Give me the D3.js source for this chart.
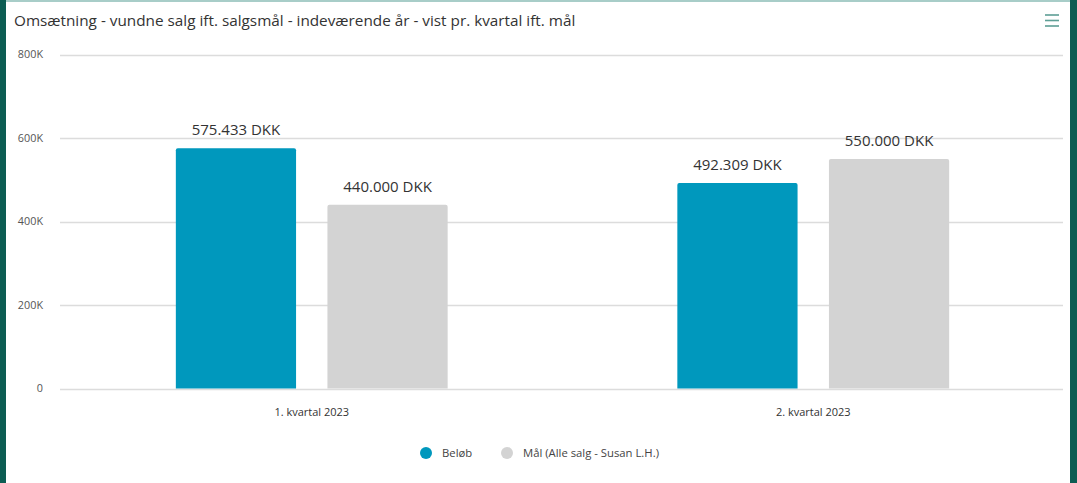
<!DOCTYPE html>
<html>
<head>
<meta charset="utf-8">
<script src="https://cdn.jsdelivr.net/npm/d3@7"></script>
<style>
  html, body { margin: 0; padding: 0; background: #fff; }
  svg { display: block; font-family: "Open Sans", "Noto Sans", sans-serif; }
</style>
</head>
<body>
<svg id="chart" width="1077" height="483"></svg>
<script>
const title = "Omsætning - vundne salg ift. salgsmål - indeværende år - vist pr. kvartal ift. mål";
const categories = ["1. kvartal 2023", "2. kvartal 2023"];
const seriesNames = ["Beløb", "Mål (Alle salg - Susan L.H.)"];
const belob = [575433, 492309];
const maal = [440000, 550000];
const yTicks = [0, 200000, 400000, 600000, 800000];
const yTickLabels = ["0", "200K", "400K", "600K", "800K"];
const colors = ["#0098bd", "#d3d3d3"];

(function () {
const W = 1077, H = 483;
const svg = d3.select("#chart");

// frame
svg.append("rect").attr("x", 0).attr("y", 0).attr("width", W).attr("height", H).attr("fill", "#fff");
svg.append("rect").attr("x", 0).attr("y", 0).attr("width", W).attr("height", 2).attr("fill", "#a8cdc8");
svg.append("rect").attr("x", 0).attr("y", 0).attr("width", 6).attr("height", H).attr("fill", "#0c5d53");
svg.append("rect").attr("x", 1070).attr("y", 0).attr("width", 7).attr("height", H).attr("fill", "#0c5d53");

// title
svg.append("text").attr("x", 14).attr("y", 26)
  .attr("font-size", 15.3).attr("fill", "#333").text(title);

// hamburger
[15, 20.5, 26].forEach(yy => {
  svg.append("rect").attr("x", 1045).attr("y", yy - 0.8).attr("width", 14).attr("height", 1.6)
    .attr("fill", "#5e9f96");
});

const pLeft = 61, pRight = 1064, pTop = 54.5, pBottom = 388.5;
const y = d3.scaleLinear().domain([0, 800000]).range([pBottom, pTop]);
const x0 = d3.scaleBand().domain(categories).range([pLeft, pRight]).padding(0);
const bw = x0.bandwidth();
const x1 = d3.scaleBand().domain(seriesNames).range([bw * 0.229, bw * 0.771]).paddingInner(0.207).paddingOuter(0);

// gridlines
const grid = svg.append("g");
yTicks.forEach((t, i) => {
  grid.append("line").attr("x1", pLeft - 1).attr("x2", pRight - 1)
    .attr("y1", Math.round(y(t)) + 0.5).attr("y2", Math.round(y(t)) + 0.5)
    .attr("stroke", "#dcdcdc").attr("stroke-width", 1.5);
  grid.append("text").attr("x", 43).attr("y", y(t) + 3.5)
    .attr("text-anchor", "end").attr("font-size", 10.8).attr("fill", "#555")
    .text(yTickLabels[i]);
});

const fmt = v => d3.format(",")(v).replace(/,/g, ".") + " DKK";
const data = categories.map((c, i) => ({ cat: c, vals: [belob[i], maal[i]] }));

const groups = svg.append("g").selectAll("g").data(data).join("g")
  .attr("transform", d => `translate(${x0(d.cat)},0)`);

groups.selectAll("path").data(d => d.vals.map((v, j) => ({ v, s: seriesNames[j], j })))
  .join("path")
  .attr("d", d => {
    const x = x1(d.s), w = x1.bandwidth(), yt = y(d.v), yb = y(0), r = 2;
    return `M${x},${yb}V${yt + r}Q${x},${yt} ${x + r},${yt}H${x + w - r}Q${x + w},${yt} ${x + w},${yt + r}V${yb}Z`;
  })
  .attr("fill", d => colors[d.j]);

groups.selectAll("text.lbl").data(d => d.vals.map((v, j) => ({ v, s: seriesNames[j], j })))
  .join("text").attr("class", "lbl")
  .attr("x", d => x1(d.s) + x1.bandwidth() / 2)
  .attr("y", d => y(d.v) - 13)
  .attr("text-anchor", "middle").attr("font-size", 15).attr("fill", "#333")
  .text(d => fmt(d.v));

// x labels
categories.forEach(c => {
  svg.append("text").attr("x", x0(c) + bw / 2).attr("y", 416)
    .attr("text-anchor", "middle").attr("font-size", 11).attr("fill", "#333")
    .text(c);
});

// legend
const legendX = [426, 507];
seriesNames.forEach((s, i) => {
  svg.append("circle").attr("cx", legendX[i]).attr("cy", 453).attr("r", 6).attr("fill", colors[i]);
  svg.append("text").attr("x", legendX[i] + 16).attr("y", 457)
    .attr("font-size", 11.3).attr("fill", "#444").text(s);
});
})();
</script>
</body>
</html>
